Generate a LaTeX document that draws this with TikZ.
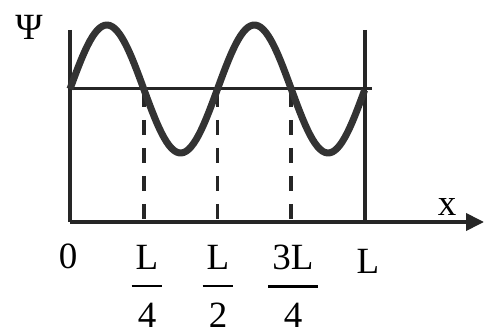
\documentclass[tikz,border=0pt]{standalone}
\usepackage{amsmath}
\usepackage{fontspec}
\setmainfont{Liberation Serif}
\usetikzlibrary{arrows.meta,positioning,calc}

\newcommand{\frcl}[2]{$\genfrac{}{}{2.6pt}{0}{\text{\kern4pt#1\kern4pt}\rule[-8pt]{0pt}{8pt}}{\rule{0pt}{32pt}\text{#2}}$}

\begin{document}
\begin{tikzpicture}[x=1pt,y=-1pt,every node/.style={font=\fontsize{37}{42}\selectfont,inner sep=0pt},
  axis/.style={line width=3.8pt,black!85},
  wave/.style={line width=7pt,black!80,line join=round},
  guide/.style={line width=3.8pt,black!85,dash pattern=on 15pt off 13pt,dash phase=25pt}]
\useasboundingbox (0,0) rectangle (486,336);
% walls and axis
\coordinate (o) at (70,222);
\coordinate (ot) at (70,30);
\coordinate (lb) at (365,222);
\coordinate (lt) at (365,30);
\coordinate (xe) at (484,222);
\coordinate (m0) at (70,89);
\coordinate (m1) at (372,89);
\draw[axis] (ot) -- (o);
\draw[axis,-{Triangle[length=18pt,width=17pt]}] (o) -- (xe);
\draw[axis] (lt) -- (lb);
\draw[axis,line width=3pt] (m0) -- (m1);
% nodes of the wave
\foreach \k in {1,2,3}{
  \coordinate (n\k) at ({70+73.75*\k},89);
  \coordinate (b\k) at ({70+73.75*\k},222);
  \draw[guide] (n\k) -- (b\k);}
% wave function
\draw[wave] plot[domain=0:1,samples=120] ({70+295*\x},{89-64*sin(720*\x)});
% labels
\node (psi) at (29,27) {Ψ};
\node (xl) at (447,207) {x};
\node (z) at (68,256) {0};
\node (q1) at (147,286) {\frcl{L}{4}};
\node (q2) at (218,286) {\frcl{L}{2}};
\node (q3) at (293,286) {\frcl{3L}{4}};
\node (ll) at (368,261) {L};
\end{tikzpicture}
\end{document}
